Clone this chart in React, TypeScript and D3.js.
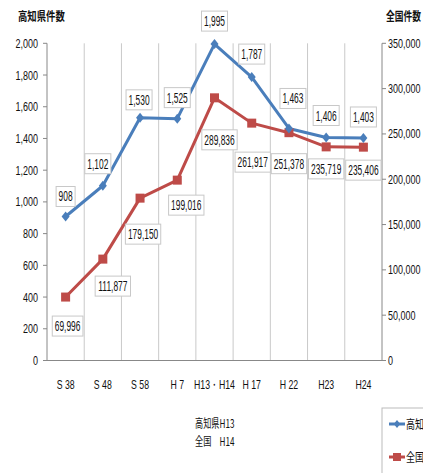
import React from "react";
import * as d3 from "d3";

const categories = ["S 38", "S 48", "S 58", "H 7", "H13・H14", "H 17", "H 22", "H23", "H24"];
const kochiValues = [908, 1102, 1530, 1525, 1995, 1787, 1463, 1406, 1403];
const zenkokuValues = [69996, 111877, 179150, 199016, 289836, 261917, 251378, 235719, 235406];
const leftTicks = [0, 200, 400, 600, 800, 1000, 1200, 1400, 1600, 1800, 2000];
const rightTicks = [0, 50000, 100000, 150000, 200000, 250000, 300000, 350000];
const seriesNames = ["高知県", "全国"];

// label placement nudges (layout only)
const kochiNudge = [[0, -20], [-5, -22], [-1, -18], [0, -21], [0, -23], [0, -23], [4, -30], [0, -22], [0, -21]];
const zenkokuNudge = [[2, 29], [10, 27], [3, 36], [9, 25], [5, 42], [1, 39], [0, 31], [0, 22], [0, 23]];

const W = 423, H = 473;
const left = 47, right = 382, top = 43.3, bottom = 360.5;
const BLUE = "#4A7EBB";
const RED = "#BE4B48";
const FONT = "'Liberation Sans', Arial, sans-serif";
const CJK = "'Noto Sans CJK JP', sans-serif";

type TP = {
  x: number; y: number; children: React.ReactNode; anchor?: "start" | "middle" | "end";
  size?: number; sx?: number; family?: string; weight?: string | number;
};
function T({ x, y, children, anchor = "start", size = 12, sx = 0.72, family = FONT, weight = "normal" }: TP) {
  return (
    <text transform={`translate(${x},${y}) scale(${sx},1)`} textAnchor={anchor} fontSize={size}
      fontFamily={family} fontWeight={weight} fill="#111">{children}</text>
  );
}

function Diamond({ x, y, s = 5 }: { x: number; y: number; s?: number }) {
  return <path d={`M${x},${y - s}L${x + s * 0.8},${y}L${x},${y + s}L${x - s * 0.8},${y}Z`} fill={BLUE} />;
}
function Square({ x, y, s = 9 }: { x: number; y: number; s?: number }) {
  return <rect x={x - s / 2} y={y - s / 2} width={s} height={s} fill={RED} />;
}

const LS = 14, LSX = 0.6;
function textW(s: string) {
  let w = 0;
  for (const ch of s) w += ch === "," ? 0.278 : 0.556;
  return w * LS * LSX;
}

function Label({ x, y, text }: { x: number; y: number; text: string }) {
  const w = textW(text) + 5;
  const h = 20;
  return (
    <g>
      <rect x={x - w / 2} y={y - h / 2} width={w} height={h} fill="#fff" stroke="#c8c8c8" strokeWidth={1} />
      <T x={x} y={y + 5} anchor="middle" size={LS} sx={LSX}>{text}</T>
    </g>
  );
}

export default function App() {
  const x = d3.scaleBand<string>().domain(categories).range([left, right]).padding(0);
  const yL = d3.scaleLinear().domain([0, 2000]).range([bottom, top]);
  const yR = d3.scaleLinear().domain([0, 350000]).range([bottom, top]);
  const cx = (c: string) => (x(c) as number) + x.bandwidth() / 2;
  const fmt = d3.format(",");

  const blueLine = d3.line<number>().x((_, i) => cx(categories[i])).y((d) => yL(d))(kochiValues) as string;
  const redLine = d3.line<number>().x((_, i) => cx(categories[i])).y((d) => yR(d))(zenkokuValues) as string;

  return (
    <svg width={W} height={H} style={{ position: "absolute", left: 0, top: 0, background: "#fff" }}>
      <rect width={W} height={H} fill="#fff" />
      {/* titles */}
      <T x={18} y={21} size={12.5} sx={0.75} family={CJK} weight="bold">高知県件数</T>
      <T x={386} y={21} size={12.5} sx={0.7} family={CJK} weight="bold">全国件数</T>

      {/* vertical gridlines */}
      {categories.slice(1).map((c) => (
        <line key={c} x1={x(c)} x2={x(c)} y1={top} y2={bottom} stroke="#c9c9c9" strokeWidth={1} />
      ))}

      {/* axes */}
      <line x1={left} x2={left} y1={top} y2={bottom} stroke="#888" />
      <line x1={right} x2={right} y1={top} y2={bottom} stroke="#888" />
      <line x1={left} x2={right} y1={bottom} y2={bottom} stroke="#888" />
      {leftTicks.map((t) => (
        <g key={"l" + t}>
          <line x1={left - 4} x2={left} y1={yL(t)} y2={yL(t)} stroke="#888" />
          <T x={38} y={yL(t) + 4.5} anchor="end" size={12.5}>{fmt(t)}</T>
        </g>
      ))}
      {rightTicks.map((t) => (
        <g key={"r" + t}>
          <line x1={right} x2={right + 4} y1={yR(t)} y2={yR(t)} stroke="#888" />
          <T x={388} y={yR(t) + 4.5} size={12.5}>{fmt(t)}</T>
        </g>
      ))}
      {categories.map((c) => (
        <T key={"c" + c} x={cx(c)} y={389} anchor="middle" size={12.5} sx={0.7}>{c}</T>
      ))}

      {/* lines */}
      <path d={redLine} fill="none" stroke={RED} strokeWidth={3} strokeLinejoin="round" />
      <path d={blueLine} fill="none" stroke={BLUE} strokeWidth={3} strokeLinejoin="round" />
      {zenkokuValues.map((v, i) => <Square key={"s" + i} x={cx(categories[i])} y={yR(v)} />)}
      {kochiValues.map((v, i) => <Diamond key={"d" + i} x={cx(categories[i])} y={yL(v)} />)}

      {/* labels */}
      {kochiValues.map((v, i) => (
        <Label key={"kl" + i} x={cx(categories[i]) + kochiNudge[i][0]} y={yL(v) + kochiNudge[i][1]} text={fmt(v)} />
      ))}
      {zenkokuValues.map((v, i) => (
        <Label key={"zl" + i} x={cx(categories[i]) + zenkokuNudge[i][0]} y={yR(v) + zenkokuNudge[i][1]} text={fmt(v)} />
      ))}

      {/* note */}
      <T x={195} y={428} size={12} sx={0.68} family={CJK}>高知県H13</T>
      <T x={195} y={446} size={12} sx={0.68} family={CJK}>全国　H14</T>

      {/* legend */}
      <rect x={382} y={408} width={60} height={80} fill="#fff" stroke="#bbb" />
      <line x1={389} x2={405} y1={424} y2={424} stroke={BLUE} strokeWidth={3} />
      <Diamond x={397} y={424} s={4} />
      <T x={406} y={429} size={12.5} sx={0.72} family={CJK}>{seriesNames[0]}</T>
      <line x1={389} x2={405} y1={457} y2={457} stroke={RED} strokeWidth={3} />
      <Square x={397} y={457} s={8} />
      <T x={406} y={462} size={12.5} sx={0.72} family={CJK}>{seriesNames[1]}</T>
    </svg>
  );
}
